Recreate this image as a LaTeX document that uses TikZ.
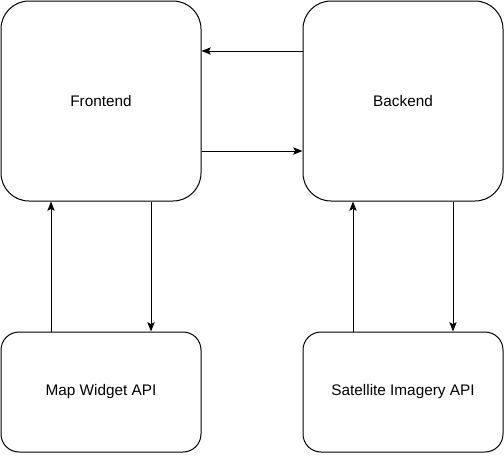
\documentclass[tikz,border=0pt]{standalone}
\usepackage{fontspec}
\setmainfont{Liberation Sans}
\usetikzlibrary{arrows.meta,positioning}

\begin{document}
\begin{tikzpicture}[x=0.75pt,y=0.75pt,>={Stealth[length=7pt,width=5.5pt,inset=1.5pt]},
  every node/.style={draw,line width=0.75pt,font=\fontsize{11.5}{14}\selectfont,inner sep=0pt},
  bigbox/.style={rectangle,rounded corners=21pt,minimum width=150pt,minimum height=150pt},
  apibox/.style={rectangle,rounded corners=13.5pt,minimum width=150pt,minimum height=90pt},
  link/.style={->,line width=0.75pt}]
  \useasboundingbox (0,0) rectangle (504,462);
  \node[bigbox] (fe) at (101,361) {Frontend};
  \node[bigbox] (be) at (403,361) {Backend};
  \node[apibox] (map) at (101,70) {Map Widget API};
  \node[apibox] (sat) at (403,70) {Satellite Imagery API};
  % frontend <-> backend
  \draw[link] ([yshift=37.5pt]be.west) -- ([yshift=37.5pt]fe.east);
  \draw[link] ([yshift=-37.5pt]fe.east) -- ([yshift=-37.5pt]be.west);
  % services
  \draw[link] ([xshift=-37.5pt]map.north) -- ([xshift=-37.5pt]fe.south);
  \draw[link] ([xshift=37.5pt]fe.south) -- ([xshift=37.5pt]map.north);
  \draw[link] ([xshift=-37.5pt]sat.north) -- ([xshift=-37.5pt]be.south);
  \draw[link] ([xshift=37.5pt]be.south) -- ([xshift=37.5pt]sat.north);
\end{tikzpicture}
\end{document}
